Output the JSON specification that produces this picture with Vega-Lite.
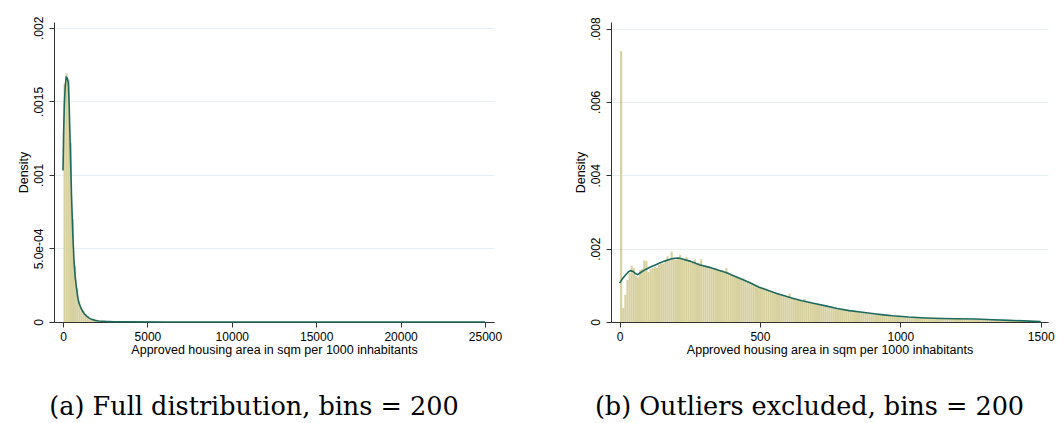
{
  "$schema": "https://vega.github.io/schema/vega-lite/v6.json",
  "background": "white",
  "padding": {"left": 17, "top": 16, "right": 5, "bottom": 5},
  "spacing": 72,
  "config": {
    "view": {"stroke": null},
    "axis": {
      "labelFont": "Liberation Sans", "labelFontSize": 12, "labelColor": "#000",
      "titleFont": "Liberation Sans", "titleFontSize": 12.5, "titleFontWeight": "normal", "titleColor": "#000",
      "domainColor": "#333", "tickColor": "#333", "tickSize": 5, "grid": false
    },
    "title": {"font": "DejaVu Serif", "fontSize": 25.5, "fontWeight": "normal", "color": "#000", "orient": "bottom", "offset": 39, "dx": -20}
  },
  "datasets": {
    "leftBars": [
      {"x0": 0, "x1": 125, "density": 0.00162},
      {"x0": 125, "x1": 250, "density": 0.00169},
      {"x0": 250, "x1": 375, "density": 0.00165},
      {"x0": 375, "x1": 500, "density": 0.00122},
      {"x0": 500, "x1": 625, "density": 0.00070},
      {"x0": 625, "x1": 750, "density": 0.00038},
      {"x0": 750, "x1": 875, "density": 0.00023},
      {"x0": 875, "x1": 1000, "density": 0.00014},
      {"x0": 1000, "x1": 1125, "density": 0.000100},
      {"x0": 1125, "x1": 1250, "density": 0.000072},
      {"x0": 1250, "x1": 1375, "density": 0.000052},
      {"x0": 1375, "x1": 1500, "density": 0.000038},
      {"x0": 1500, "x1": 1625, "density": 0.000028},
      {"x0": 1625, "x1": 1750, "density": 0.000021},
      {"x0": 1750, "x1": 1875, "density": 0.000016},
      {"x0": 1875, "x1": 2000, "density": 0.000012},
      {"x0": 2000, "x1": 2125, "density": 0.000010},
      {"x0": 2125, "x1": 2250, "density": 0.000008},
      {"x0": 2250, "x1": 2375, "density": 0.000006},
      {"x0": 2375, "x1": 2500, "density": 0.000005},
      {"x0": 2500, "x1": 2625, "density": 0.000004},
      {"x0": 2625, "x1": 2750, "density": 0.000003},
      {"x0": 2750, "x1": 2875, "density": 0.000003},
      {"x0": 2875, "x1": 3000, "density": 0.000002},
      {"x0": 3000, "x1": 3125, "density": 0.000002},
      {"x0": 3375, "x1": 3500, "density": 0.0000015},
      {"x0": 4000, "x1": 4125, "density": 0.0000015},
      {"x0": 4375, "x1": 4500, "density": 0.000001},
      {"x0": 5125, "x1": 5250, "density": 0.000001},
      {"x0": 6250, "x1": 6375, "density": 0.000001},
      {"x0": 7375, "x1": 7500, "density": 0.000001},
      {"x0": 9250, "x1": 9375, "density": 0.000001},
      {"x0": 21625, "x1": 21750, "density": 0.000001}
    ],
    "leftKde": [
      {"x": 0, "density": 0.00103}, {"x": 40, "density": 0.00130}, {"x": 80, "density": 0.00148},
      {"x": 130, "density": 0.00160}, {"x": 190, "density": 0.001665}, {"x": 250, "density": 0.00166},
      {"x": 310, "density": 0.00163}, {"x": 360, "density": 0.00150}, {"x": 400, "density": 0.00132},
      {"x": 450, "density": 0.00110}, {"x": 510, "density": 0.00084}, {"x": 580, "density": 0.00060},
      {"x": 650, "density": 0.00042}, {"x": 720, "density": 0.00031}, {"x": 790, "density": 0.00024},
      {"x": 870, "density": 0.00017}, {"x": 950, "density": 0.000127}, {"x": 1100, "density": 0.000085},
      {"x": 1250, "density": 0.000058}, {"x": 1400, "density": 0.000040}, {"x": 1550, "density": 0.000026},
      {"x": 1700, "density": 0.000018}, {"x": 1900, "density": 0.000011}, {"x": 2100, "density": 0.000007},
      {"x": 2500, "density": 0.000004}, {"x": 3000, "density": 0.000002}, {"x": 4000, "density": 0.000001},
      {"x": 6000, "density": 0.0000005}, {"x": 10000, "density": 0.0000002}, {"x": 15000, "density": 0.0000001},
      {"x": 20000, "density": 0.00000005}, {"x": 25000, "density": 0.00000002}
    ],
    "rightBars": [
      {"x0": 0, "x1": 7.5, "density": 0.00738},
      {"x0": 7.5, "x1": 15, "density": 0.00038},
      {"x0": 15, "x1": 22.5, "density": 0.00074},
      {"x0": 22.5, "x1": 30, "density": 0.00115},
      {"x0": 30, "x1": 37.5, "density": 0.00133},
      {"x0": 37.5, "x1": 45, "density": 0.00154},
      {"x0": 45, "x1": 52.5, "density": 0.00147},
      {"x0": 52.5, "x1": 60, "density": 0.00125},
      {"x0": 60, "x1": 67.5, "density": 0.00122},
      {"x0": 67.5, "x1": 75, "density": 0.00142},
      {"x0": 75, "x1": 82.5, "density": 0.00145},
      {"x0": 82.5, "x1": 90, "density": 0.00168},
      {"x0": 90, "x1": 97.5, "density": 0.00166},
      {"x0": 97.5, "x1": 105, "density": 0.00136},
      {"x0": 105, "x1": 112.5, "density": 0.00144},
      {"x0": 112.5, "x1": 120, "density": 0.00147},
      {"x0": 120, "x1": 127.5, "density": 0.00150},
      {"x0": 127.5, "x1": 135, "density": 0.00148},
      {"x0": 135, "x1": 142.5, "density": 0.00155},
      {"x0": 142.5, "x1": 150, "density": 0.00158},
      {"x0": 150, "x1": 157.5, "density": 0.00160},
      {"x0": 157.5, "x1": 165, "density": 0.00166},
      {"x0": 165, "x1": 172.5, "density": 0.00179},
      {"x0": 172.5, "x1": 180, "density": 0.00170},
      {"x0": 180, "x1": 187.5, "density": 0.00192},
      {"x0": 187.5, "x1": 195, "density": 0.00172},
      {"x0": 195, "x1": 202.5, "density": 0.00170},
      {"x0": 202.5, "x1": 210, "density": 0.00174},
      {"x0": 210, "x1": 217.5, "density": 0.00183},
      {"x0": 217.5, "x1": 225, "density": 0.00172},
      {"x0": 225, "x1": 232.5, "density": 0.00170},
      {"x0": 232.5, "x1": 240, "density": 0.00177},
      {"x0": 240, "x1": 247.5, "density": 0.00168},
      {"x0": 247.5, "x1": 255, "density": 0.00166},
      {"x0": 255, "x1": 262.5, "density": 0.00164},
      {"x0": 262.5, "x1": 270, "density": 0.00170},
      {"x0": 270, "x1": 277.5, "density": 0.00160},
      {"x0": 277.5, "x1": 285, "density": 0.00162},
      {"x0": 285, "x1": 292.5, "density": 0.00171},
      {"x0": 292.5, "x1": 300, "density": 0.00155},
      {"x0": 300, "x1": 307.5, "density": 0.00154},
      {"x0": 307.5, "x1": 315, "density": 0.00152},
      {"x0": 315, "x1": 322.5, "density": 0.00151},
      {"x0": 322.5, "x1": 330, "density": 0.00148},
      {"x0": 330, "x1": 337.5, "density": 0.00145},
      {"x0": 337.5, "x1": 345, "density": 0.00147},
      {"x0": 345, "x1": 352.5, "density": 0.00142},
      {"x0": 352.5, "x1": 360, "density": 0.00140},
      {"x0": 360, "x1": 367.5, "density": 0.00141},
      {"x0": 367.5, "x1": 375, "density": 0.00137},
      {"x0": 375, "x1": 382.5, "density": 0.00147},
      {"x0": 382.5, "x1": 390, "density": 0.00133},
      {"x0": 390, "x1": 397.5, "density": 0.00130},
      {"x0": 397.5, "x1": 405, "density": 0.00128},
      {"x0": 405, "x1": 412.5, "density": 0.00125},
      {"x0": 412.5, "x1": 420, "density": 0.00124},
      {"x0": 420, "x1": 427.5, "density": 0.00120},
      {"x0": 427.5, "x1": 435, "density": 0.00117},
      {"x0": 435, "x1": 442.5, "density": 0.00119},
      {"x0": 442.5, "x1": 450, "density": 0.00114},
      {"x0": 450, "x1": 457.5, "density": 0.00108},
      {"x0": 457.5, "x1": 465, "density": 0.00110},
      {"x0": 465, "x1": 472.5, "density": 0.00105},
      {"x0": 472.5, "x1": 480, "density": 0.00103},
      {"x0": 480, "x1": 487.5, "density": 0.00100},
      {"x0": 487.5, "x1": 495, "density": 0.00098},
      {"x0": 495, "x1": 502.5, "density": 0.00096},
      {"x0": 502.5, "x1": 510, "density": 0.00093},
      {"x0": 510, "x1": 517.5, "density": 0.00090},
      {"x0": 517.5, "x1": 525, "density": 0.00088},
      {"x0": 525, "x1": 532.5, "density": 0.00086},
      {"x0": 532.5, "x1": 540, "density": 0.00083},
      {"x0": 540, "x1": 547.5, "density": 0.00082},
      {"x0": 547.5, "x1": 555, "density": 0.00080},
      {"x0": 555, "x1": 562.5, "density": 0.00078},
      {"x0": 562.5, "x1": 570, "density": 0.00076},
      {"x0": 570, "x1": 577.5, "density": 0.00074},
      {"x0": 577.5, "x1": 585, "density": 0.00072},
      {"x0": 585, "x1": 592.5, "density": 0.00070},
      {"x0": 592.5, "x1": 600, "density": 0.00069},
      {"x0": 600, "x1": 607.5, "density": 0.00077},
      {"x0": 607.5, "x1": 615, "density": 0.00066},
      {"x0": 615, "x1": 622.5, "density": 0.00064},
      {"x0": 622.5, "x1": 630, "density": 0.00062},
      {"x0": 630, "x1": 637.5, "density": 0.00060},
      {"x0": 637.5, "x1": 645, "density": 0.00059},
      {"x0": 645, "x1": 652.5, "density": 0.00057},
      {"x0": 652.5, "x1": 660, "density": 0.00063},
      {"x0": 660, "x1": 667.5, "density": 0.00055},
      {"x0": 667.5, "x1": 675, "density": 0.00053},
      {"x0": 675, "x1": 682.5, "density": 0.00052},
      {"x0": 682.5, "x1": 690, "density": 0.00050},
      {"x0": 690, "x1": 697.5, "density": 0.00049},
      {"x0": 697.5, "x1": 705, "density": 0.00048},
      {"x0": 705, "x1": 712.5, "density": 0.00046},
      {"x0": 712.5, "x1": 720, "density": 0.00045},
      {"x0": 720, "x1": 727.5, "density": 0.00044},
      {"x0": 727.5, "x1": 735, "density": 0.00043},
      {"x0": 735, "x1": 742.5, "density": 0.00042},
      {"x0": 742.5, "x1": 750, "density": 0.00040},
      {"x0": 750, "x1": 757.5, "density": 0.00039},
      {"x0": 757.5, "x1": 765, "density": 0.00037},
      {"x0": 765, "x1": 772.5, "density": 0.00036},
      {"x0": 772.5, "x1": 780, "density": 0.00035},
      {"x0": 780, "x1": 787.5, "density": 0.00034},
      {"x0": 787.5, "x1": 795, "density": 0.00033},
      {"x0": 795, "x1": 802.5, "density": 0.00032},
      {"x0": 802.5, "x1": 810, "density": 0.00031},
      {"x0": 810, "x1": 817.5, "density": 0.00030},
      {"x0": 817.5, "x1": 825, "density": 0.00029},
      {"x0": 825, "x1": 832.5, "density": 0.00028},
      {"x0": 832.5, "x1": 840, "density": 0.00032},
      {"x0": 840, "x1": 847.5, "density": 0.00027},
      {"x0": 847.5, "x1": 855, "density": 0.00027},
      {"x0": 855, "x1": 862.5, "density": 0.00026},
      {"x0": 862.5, "x1": 870, "density": 0.00025},
      {"x0": 870, "x1": 877.5, "density": 0.00024},
      {"x0": 877.5, "x1": 885, "density": 0.00023},
      {"x0": 885, "x1": 892.5, "density": 0.00022},
      {"x0": 892.5, "x1": 900, "density": 0.00022},
      {"x0": 900, "x1": 907.5, "density": 0.00021},
      {"x0": 907.5, "x1": 915, "density": 0.00020},
      {"x0": 915, "x1": 922.5, "density": 0.00020},
      {"x0": 922.5, "x1": 930, "density": 0.00019},
      {"x0": 930, "x1": 937.5, "density": 0.00018},
      {"x0": 937.5, "x1": 945, "density": 0.00018},
      {"x0": 945, "x1": 952.5, "density": 0.00017},
      {"x0": 952.5, "x1": 960, "density": 0.00017},
      {"x0": 960, "x1": 967.5, "density": 0.00016},
      {"x0": 967.5, "x1": 975, "density": 0.00016},
      {"x0": 975, "x1": 982.5, "density": 0.00015},
      {"x0": 982.5, "x1": 990, "density": 0.00015},
      {"x0": 990, "x1": 997.5, "density": 0.00014},
      {"x0": 997.5, "x1": 1005, "density": 0.00014},
      {"x0": 1005, "x1": 1012.5, "density": 0.00013},
      {"x0": 1012.5, "x1": 1020, "density": 0.00015},
      {"x0": 1020, "x1": 1027.5, "density": 0.00013},
      {"x0": 1027.5, "x1": 1035, "density": 0.00012},
      {"x0": 1035, "x1": 1042.5, "density": 0.00012},
      {"x0": 1042.5, "x1": 1050, "density": 0.00012},
      {"x0": 1050, "x1": 1057.5, "density": 0.00011},
      {"x0": 1057.5, "x1": 1065, "density": 0.00011},
      {"x0": 1065, "x1": 1072.5, "density": 0.00011},
      {"x0": 1072.5, "x1": 1080, "density": 0.00011},
      {"x0": 1080, "x1": 1087.5, "density": 0.00010},
      {"x0": 1087.5, "x1": 1095, "density": 0.00012},
      {"x0": 1095, "x1": 1102.5, "density": 0.00010},
      {"x0": 1102.5, "x1": 1110, "density": 0.00010},
      {"x0": 1110, "x1": 1117.5, "density": 0.00010},
      {"x0": 1117.5, "x1": 1125, "density": 0.00009},
      {"x0": 1125, "x1": 1132.5, "density": 0.00009},
      {"x0": 1132.5, "x1": 1140, "density": 0.00009},
      {"x0": 1140, "x1": 1147.5, "density": 0.00009},
      {"x0": 1147.5, "x1": 1155, "density": 0.00009},
      {"x0": 1155, "x1": 1162.5, "density": 0.00009},
      {"x0": 1162.5, "x1": 1170, "density": 0.00008},
      {"x0": 1170, "x1": 1177.5, "density": 0.00008},
      {"x0": 1177.5, "x1": 1185, "density": 0.00008},
      {"x0": 1185, "x1": 1192.5, "density": 0.00009},
      {"x0": 1192.5, "x1": 1200, "density": 0.00008},
      {"x0": 1200, "x1": 1207.5, "density": 0.00008},
      {"x0": 1207.5, "x1": 1215, "density": 0.00008},
      {"x0": 1215, "x1": 1222.5, "density": 0.00008},
      {"x0": 1222.5, "x1": 1230, "density": 0.00007},
      {"x0": 1230, "x1": 1237.5, "density": 0.00009},
      {"x0": 1237.5, "x1": 1245, "density": 0.00007},
      {"x0": 1245, "x1": 1252.5, "density": 0.00007},
      {"x0": 1252.5, "x1": 1260, "density": 0.00007},
      {"x0": 1260, "x1": 1267.5, "density": 0.00007},
      {"x0": 1267.5, "x1": 1275, "density": 0.00007},
      {"x0": 1275, "x1": 1282.5, "density": 0.00006},
      {"x0": 1282.5, "x1": 1290, "density": 0.00006},
      {"x0": 1290, "x1": 1297.5, "density": 0.00006},
      {"x0": 1297.5, "x1": 1305, "density": 0.00006},
      {"x0": 1305, "x1": 1312.5, "density": 0.00006},
      {"x0": 1312.5, "x1": 1320, "density": 0.00005},
      {"x0": 1320, "x1": 1327.5, "density": 0.00005},
      {"x0": 1327.5, "x1": 1335, "density": 0.00005},
      {"x0": 1335, "x1": 1342.5, "density": 0.00006},
      {"x0": 1342.5, "x1": 1350, "density": 0.00005},
      {"x0": 1350, "x1": 1357.5, "density": 0.00005},
      {"x0": 1357.5, "x1": 1365, "density": 0.00004},
      {"x0": 1365, "x1": 1372.5, "density": 0.00004},
      {"x0": 1372.5, "x1": 1380, "density": 0.00004},
      {"x0": 1380, "x1": 1387.5, "density": 0.00004},
      {"x0": 1387.5, "x1": 1395, "density": 0.00004},
      {"x0": 1395, "x1": 1402.5, "density": 0.00003},
      {"x0": 1402.5, "x1": 1410, "density": 0.00003},
      {"x0": 1410, "x1": 1417.5, "density": 0.00004},
      {"x0": 1417.5, "x1": 1425, "density": 0.00003},
      {"x0": 1425, "x1": 1432.5, "density": 0.00003},
      {"x0": 1432.5, "x1": 1440, "density": 0.00003},
      {"x0": 1440, "x1": 1447.5, "density": 0.00002},
      {"x0": 1447.5, "x1": 1455, "density": 0.00002},
      {"x0": 1455, "x1": 1462.5, "density": 0.00002},
      {"x0": 1462.5, "x1": 1470, "density": 0.00002},
      {"x0": 1470, "x1": 1477.5, "density": 0.00002},
      {"x0": 1477.5, "x1": 1485, "density": 0.00002},
      {"x0": 1485, "x1": 1492.5, "density": 0.000015},
      {"x0": 1492.5, "x1": 1500, "density": 0.00001}
    ],
    "rightKde": [
      {"x": 0, "density": 0.00106}, {"x": 10, "density": 0.00118}, {"x": 22, "density": 0.00129},
      {"x": 32, "density": 0.00137}, {"x": 40, "density": 0.00140}, {"x": 48, "density": 0.00138},
      {"x": 56, "density": 0.00132}, {"x": 64, "density": 0.00129}, {"x": 75, "density": 0.00135},
      {"x": 94, "density": 0.00144}, {"x": 110, "density": 0.00150}, {"x": 125, "density": 0.00155},
      {"x": 141, "density": 0.00160}, {"x": 160, "density": 0.00166}, {"x": 180, "density": 0.00171},
      {"x": 195, "density": 0.00174}, {"x": 210, "density": 0.001745}, {"x": 224, "density": 0.00172},
      {"x": 250, "density": 0.00166}, {"x": 284, "density": 0.00156}, {"x": 320, "density": 0.00149},
      {"x": 350, "density": 0.00142}, {"x": 379, "density": 0.00135}, {"x": 410, "density": 0.00125},
      {"x": 440, "density": 0.00115}, {"x": 470, "density": 0.00105}, {"x": 497, "density": 0.00095},
      {"x": 530, "density": 0.00086}, {"x": 560, "density": 0.00078}, {"x": 590, "density": 0.00071},
      {"x": 616, "density": 0.00065}, {"x": 650, "density": 0.00058}, {"x": 690, "density": 0.00051},
      {"x": 734, "density": 0.00044}, {"x": 775, "density": 0.00037}, {"x": 818, "density": 0.00031},
      {"x": 850, "density": 0.00028}, {"x": 900, "density": 0.00023}, {"x": 940, "density": 0.000195},
      {"x": 972, "density": 0.00017}, {"x": 1030, "density": 0.000135}, {"x": 1090, "density": 0.00011},
      {"x": 1150, "density": 0.000095}, {"x": 1200, "density": 0.000088}, {"x": 1269, "density": 0.00008},
      {"x": 1330, "density": 0.00006}, {"x": 1387, "density": 0.000045}, {"x": 1440, "density": 0.00003},
      {"x": 1500, "density": 0.00001}
    ]
  },
  "hconcat": [
    {
      "width": 440, "height": 300,
      "title": {"text": "(a) Full distribution, bins = 200"},
      "layer": [
        {
          "data": {"name": "leftBars"},
          "mark": {"type": "bar", "color": "#d7d09f", "stroke": null, "binSpacing": 0},
          "encoding": {
            "x": {"field": "x0", "type": "quantitative", "bin": "binned",
                  "scale": {"domain": [-533, 25533], "nice": false, "zero": false},
                  "axis": {"values": [0, 5000, 10000, 15000, 20000, 25000], "title": "Approved housing area in sqm per 1000 inhabitants", "labelPadding": 4, "titlePadding": 1, "labelFlush": false, "format": "d"}},
            "x2": {"field": "x1"},
            "y": {"field": "density", "type": "quantitative",
                  "scale": {"domain": [0, 0.00204], "nice": false},
                  "axis": {"values": [0, 0.0005, 0.001, 0.0015, 0.002], "title": "Density", "grid": true, "gridColor": "#e6eff1", "labelAngle": -90, "labelAlign": "center", "labelBaseline": "bottom", "labelPadding": 4, "titlePadding": 2,
                           "labelExpr": "datum.value === 0 ? '0' : (datum.value < 0.0007 ? '5.0e-04' : replace(toString(datum.value), '0.', '.'))"}}
          }
        },
        {
          "data": {"name": "leftKde"},
          "mark": {"type": "line", "color": "#1f6a5d", "strokeWidth": 1.6},
          "encoding": {
            "x": {"field": "x", "type": "quantitative"},
            "y": {"field": "density", "type": "quantitative"}
          }
        }
      ]
    },
    {
      "width": 437, "height": 300,
      "title": {"text": "(b) Outliers excluded, bins = 200"},
      "layer": [
        {
          "data": {"name": "rightBars"},
          "mark": {"type": "bar", "color": "#d7d09f", "stroke": null, "binSpacing": 0},
          "encoding": {
            "x": {"field": "x0", "type": "quantitative", "bin": "binned",
                  "scale": {"domain": [-30.6, 1526], "nice": false, "zero": false},
                  "axis": {"values": [0, 500, 1000, 1500], "title": "Approved housing area in sqm per 1000 inhabitants", "labelPadding": 4, "titlePadding": 1, "labelFlush": false, "format": "d"}},
            "x2": {"field": "x1"},
            "y": {"field": "density", "type": "quantitative",
                  "scale": {"domain": [0, 0.00818], "nice": false},
                  "axis": {"values": [0, 0.002, 0.004, 0.006, 0.008], "title": "Density", "grid": true, "gridColor": "#e6eff1", "labelAngle": -90, "labelAlign": "center", "labelBaseline": "bottom", "labelPadding": 4, "titlePadding": 2,
                           "labelExpr": "datum.value === 0 ? '0' : replace(toString(datum.value), '0.', '.')"}}
          }
        },
        {
          "data": {"name": "rightKde"},
          "mark": {"type": "line", "color": "#1f6a5d", "strokeWidth": 1.6},
          "encoding": {
            "x": {"field": "x", "type": "quantitative"},
            "y": {"field": "density", "type": "quantitative"}
          }
        }
      ]
    }
  ]
}
